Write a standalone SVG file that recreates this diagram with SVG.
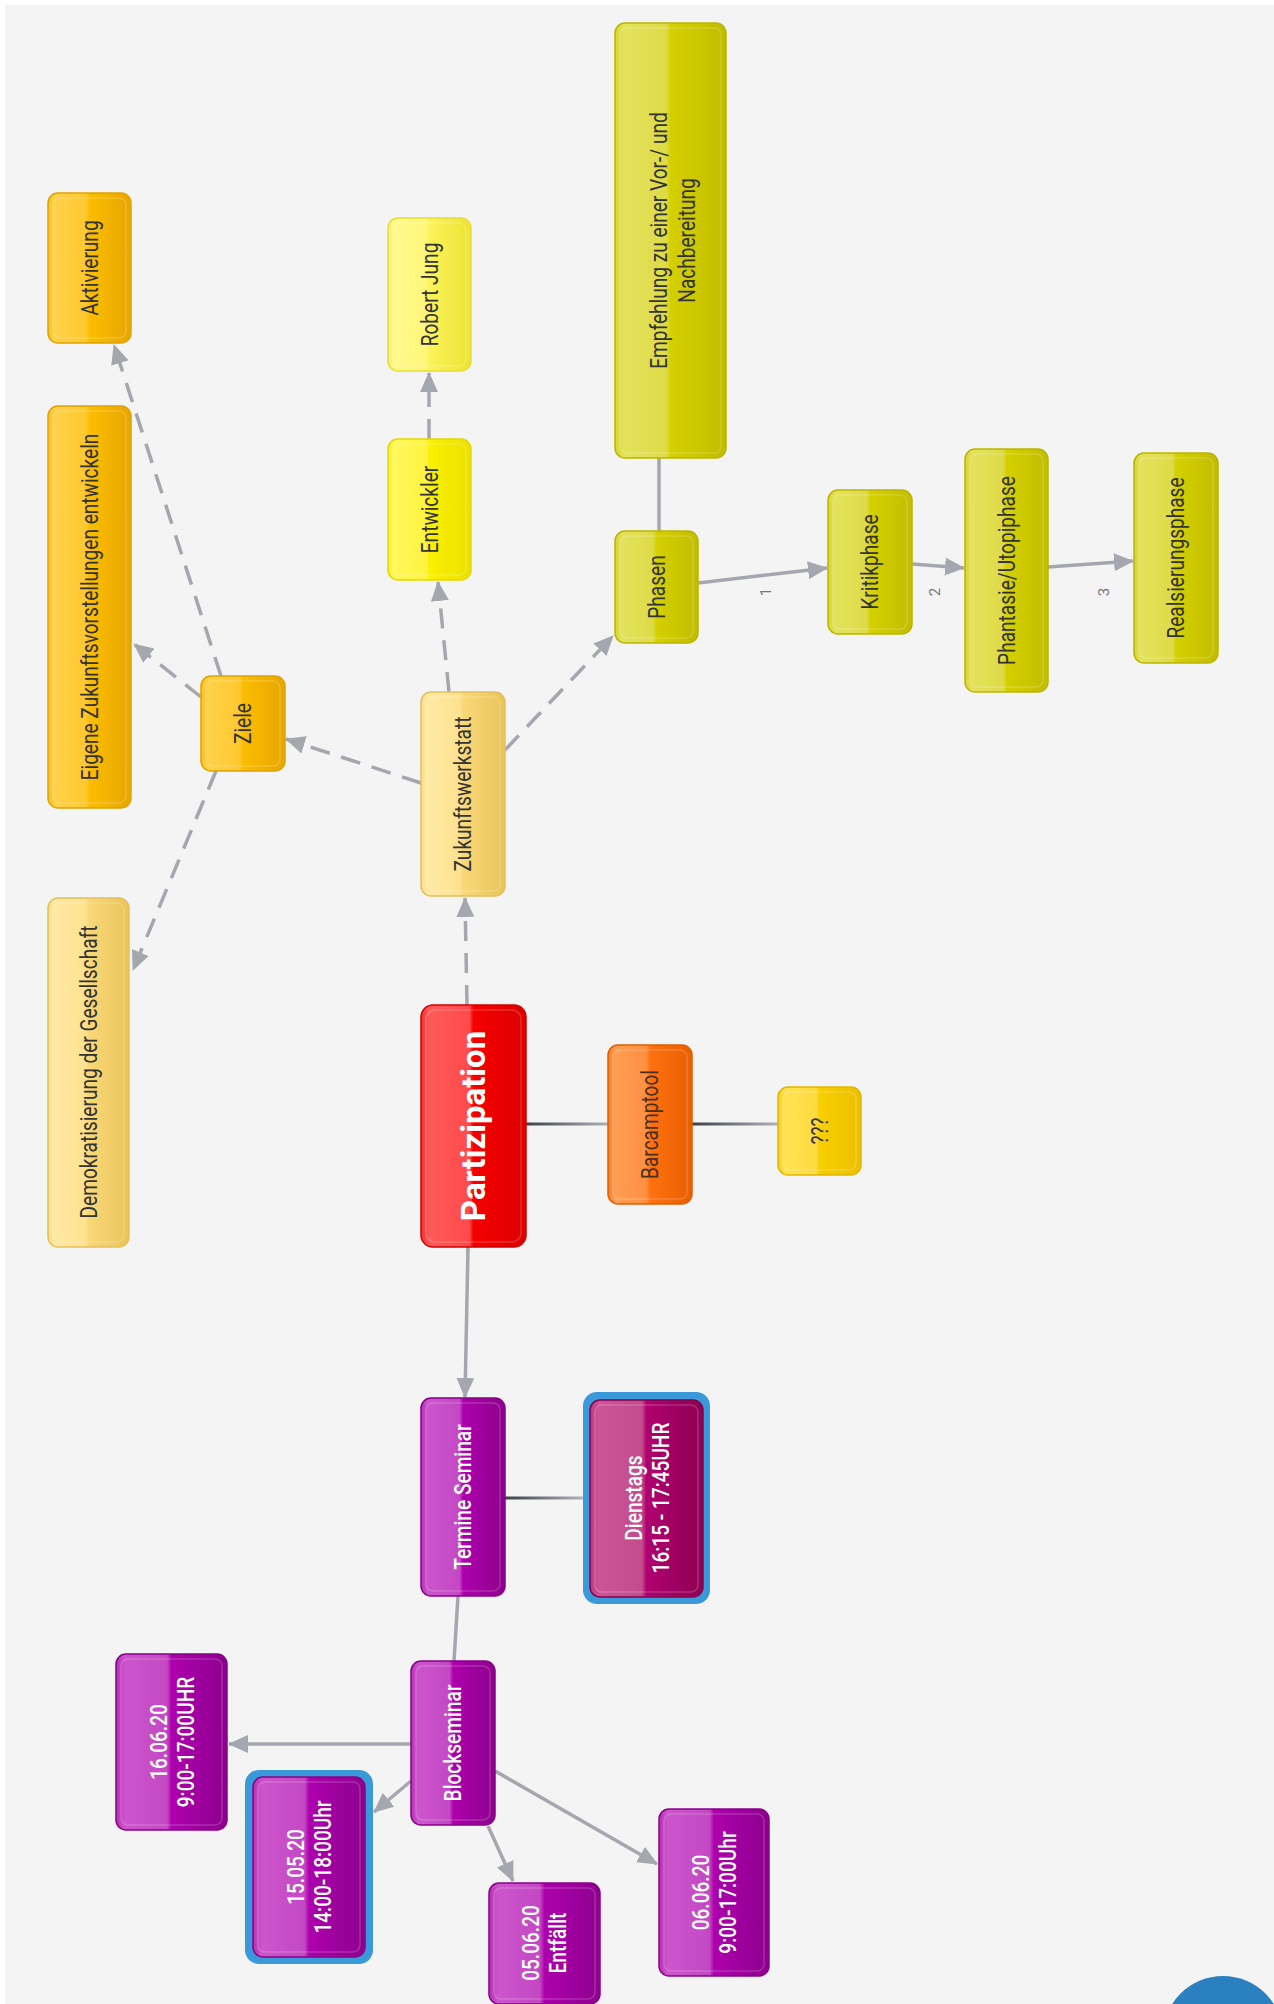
<svg xmlns="http://www.w3.org/2000/svg" width="1274" height="2004" viewBox="0 0 1274 2004">
<style>
.lbl{font-family:Roboto,"Liberation Sans",sans-serif;font-size:23px;fill:#333;text-anchor:middle;dominant-baseline:central}
.w{fill:#fff;font-weight:500}
.big{font-size:33px;font-weight:bold;fill:#fff}
.el{font-family:Roboto,"Liberation Sans",sans-serif;font-size:15px;fill:#777;text-anchor:middle;dominant-baseline:central}
.e{fill:none;stroke:#a4a7ae;stroke-width:3.5}
.d{stroke-dasharray:20 12}
.hl{fill:none;stroke:#fff;stroke-opacity:0.18;stroke-width:1.5}
.b{stroke-width:1.5}
</style>
<defs>
<marker id="arr" markerUnits="userSpaceOnUse" markerWidth="20" markerHeight="18" refX="19" refY="9" orient="auto" viewBox="0 0 20 18">
<path d="M0,0 L20,9 L0,18 z" fill="#a4a7ae"/>
</marker>
<linearGradient id="g-red" x1="0" y1="0" x2="1" y2="0"><stop offset="0" stop-color="#f23030"/><stop offset="0.08" stop-color="#ff5a5a"/><stop offset="0.46" stop-color="#ff4a4a"/><stop offset="0.5" stop-color="#f50000"/><stop offset="1" stop-color="#dc0000"/></linearGradient>
<linearGradient id="g-orange" x1="0" y1="0" x2="1" y2="0"><stop offset="0" stop-color="#f97a20"/><stop offset="0.08" stop-color="#ff9d55"/><stop offset="0.46" stop-color="#ff9040"/><stop offset="0.5" stop-color="#ff7010"/><stop offset="1" stop-color="#e86000"/></linearGradient>
<linearGradient id="g-gold" x1="0" y1="0" x2="1" y2="0"><stop offset="0" stop-color="#f5cf20"/><stop offset="0.08" stop-color="#ffe254"/><stop offset="0.46" stop-color="#ffda40"/><stop offset="0.5" stop-color="#f8cf00"/><stop offset="1" stop-color="#ecbf00"/></linearGradient>
<linearGradient id="g-amber" x1="0" y1="0" x2="1" y2="0"><stop offset="0" stop-color="#f8c020"/><stop offset="0.08" stop-color="#ffd24a"/><stop offset="0.46" stop-color="#ffc830"/><stop offset="0.5" stop-color="#fbbd00"/><stop offset="1" stop-color="#e8a600"/></linearGradient>
<linearGradient id="g-cream" x1="0" y1="0" x2="1" y2="0"><stop offset="0" stop-color="#f8df88"/><stop offset="0.08" stop-color="#ffe9a4"/><stop offset="0.46" stop-color="#fee290"/><stop offset="0.5" stop-color="#f9d878"/><stop offset="1" stop-color="#eac45a"/></linearGradient>
<linearGradient id="g-yellow" x1="0" y1="0" x2="1" y2="0"><stop offset="0" stop-color="#f8f030"/><stop offset="0.08" stop-color="#fff85a"/><stop offset="0.46" stop-color="#fff440"/><stop offset="0.5" stop-color="#faf000"/><stop offset="1" stop-color="#ebe100"/></linearGradient>
<linearGradient id="g-lemon" x1="0" y1="0" x2="1" y2="0"><stop offset="0" stop-color="#f8f070"/><stop offset="0.08" stop-color="#fffa8c"/><stop offset="0.46" stop-color="#fff67a"/><stop offset="0.5" stop-color="#fbf35a"/><stop offset="1" stop-color="#ede434"/></linearGradient>
<linearGradient id="g-olive" x1="0" y1="0" x2="1" y2="0"><stop offset="0" stop-color="#d8d430"/><stop offset="0.08" stop-color="#e4e25c"/><stop offset="0.46" stop-color="#dedb48"/><stop offset="0.5" stop-color="#d4d000"/><stop offset="1" stop-color="#c2bd00"/></linearGradient>
<linearGradient id="g-purple" x1="0" y1="0" x2="1" y2="0"><stop offset="0" stop-color="#b530b5"/><stop offset="0.08" stop-color="#cc55cc"/><stop offset="0.46" stop-color="#c448c4"/><stop offset="0.5" stop-color="#ad00ad"/><stop offset="1" stop-color="#8e008e"/></linearGradient>
<linearGradient id="g-magenta" x1="0" y1="0" x2="1" y2="0"><stop offset="0" stop-color="#b83a80"/><stop offset="0.08" stop-color="#cc5599"/><stop offset="0.46" stop-color="#c24c8c"/><stop offset="0.5" stop-color="#b00070"/><stop offset="1" stop-color="#8e0052"/></linearGradient>
<linearGradient id="l1" gradientUnits="userSpaceOnUse" x1="526" y1="0" x2="608" y2="0"><stop offset="0" stop-color="#3a3f48"/><stop offset="1" stop-color="#b0b3b8"/></linearGradient>
<linearGradient id="l2" gradientUnits="userSpaceOnUse" x1="692" y1="0" x2="778" y2="0"><stop offset="0" stop-color="#3a3f48"/><stop offset="1" stop-color="#b0b3b8"/></linearGradient>
<linearGradient id="l3" gradientUnits="userSpaceOnUse" x1="505" y1="0" x2="583" y2="0"><stop offset="0" stop-color="#3a3f48"/><stop offset="1" stop-color="#b0b3b8"/></linearGradient>
</defs>
<rect width="1274" height="2004" fill="#ffffff"/>
<rect x="5" y="5" width="1269" height="1999" fill="#f4f4f4"/>

<g id="connectors">
<line class="e d" x1="467" y1="1005" x2="465" y2="898" marker-end="url(#arr)"/>
<line class="e d" x1="421" y1="783" x2="286" y2="739" marker-end="url(#arr)"/>
<line class="e d" x1="449" y1="692" x2="438" y2="582" marker-end="url(#arr)"/>
<line class="e d" x1="429" y1="439" x2="429" y2="373" marker-end="url(#arr)"/>
<line class="e d" x1="505" y1="750" x2="613" y2="636" marker-end="url(#arr)"/>
<line class="e d" x1="201" y1="697" x2="134" y2="644" marker-end="url(#arr)"/>
<line class="e d" x1="221" y1="676" x2="114" y2="345" marker-end="url(#arr)"/>
<line class="e d" x1="216" y1="771" x2="133" y2="970" marker-end="url(#arr)"/>
<line class="e" x1="698" y1="583" x2="827" y2="568" marker-end="url(#arr)"/>
<line class="e" x1="912" y1="564" x2="964" y2="568" marker-end="url(#arr)"/>
<line class="e" x1="1048" y1="567" x2="1133" y2="561" marker-end="url(#arr)"/>
<line class="e" x1="468" y1="1247" x2="465" y2="1397" marker-end="url(#arr)"/>
<line class="e" x1="411" y1="1744" x2="229" y2="1744" marker-end="url(#arr)"/>
<line class="e" x1="411" y1="1781" x2="374" y2="1812" marker-end="url(#arr)"/>
<line class="e" x1="488" y1="1826" x2="513" y2="1881" marker-end="url(#arr)"/>
<line class="e" x1="495" y1="1771" x2="657" y2="1864" marker-end="url(#arr)"/>
<line class="e" x1="659" y1="531" x2="659" y2="458"/>
<line class="e" x1="458" y1="1596" x2="454" y2="1661"/>
<line x1="526" y1="1124" x2="608" y2="1124" stroke="url(#l1)" stroke-width="3"/>
<line x1="692" y1="1124" x2="778" y2="1124" stroke="url(#l2)" stroke-width="3"/>
<line x1="505" y1="1498" x2="583" y2="1498" stroke="url(#l3)" stroke-width="3"/>
<text class="el" transform="translate(766,592) rotate(-90)">1</text>
<text class="el" transform="translate(935,592) rotate(-90)">2</text>
<text class="el" transform="translate(1104,592) rotate(-90)">3</text>
</g>

<g id="n-aktivierung">
<rect class="b" x="48" y="193" width="83" height="150" rx="10" fill="url(#g-amber)" stroke="#dea200"/>
<rect class="hl" x="53" y="198" width="73" height="140" rx="7"/>
<text class="lbl" transform="translate(89.5,268) rotate(-90) scale(0.83,1)">Aktivierung</text>
</g>
<g id="n-eigene">
<rect class="b" x="48" y="406" width="83" height="402" rx="10" fill="url(#g-amber)" stroke="#dea200"/>
<rect class="hl" x="53" y="411" width="73" height="392" rx="7"/>
<text class="lbl" transform="translate(89.5,607) rotate(-90) scale(0.83,1)">Eigene Zukunftsvorstellungen entwickeln</text>
</g>
<g id="n-demokratisierung">
<rect class="b" x="48" y="898" width="81" height="349" rx="10" fill="url(#g-cream)" stroke="#e4c05a"/>
<rect class="hl" x="53" y="903" width="71" height="339" rx="7"/>
<text class="lbl" transform="translate(88.5,1072) rotate(-90) scale(0.83,1)">Demokratisierung der Gesellschaft</text>
</g>
<g id="n-ziele">
<rect class="b" x="201" y="676" width="84" height="95" rx="10" fill="url(#g-amber)" stroke="#dea200"/>
<rect class="hl" x="206" y="681" width="74" height="85" rx="7"/>
<text class="lbl" transform="translate(243,723.5) rotate(-90) scale(0.83,1)">Ziele</text>
</g>
<g id="n-zukunftswerkstatt">
<rect class="b" x="421" y="692" width="84" height="204" rx="10" fill="url(#g-cream)" stroke="#e4c05a"/>
<rect class="hl" x="426" y="697" width="74" height="194" rx="7"/>
<text class="lbl" transform="translate(463,794) rotate(-90) scale(0.83,1)">Zukunftswerkstatt</text>
</g>
<g id="n-entwickler">
<rect class="b" x="388" y="439" width="83" height="141" rx="10" fill="url(#g-yellow)" stroke="#e2d900"/>
<rect class="hl" x="393" y="444" width="73" height="131" rx="7"/>
<text class="lbl" transform="translate(429.5,509.5) rotate(-90) scale(0.83,1)">Entwickler</text>
</g>
<g id="n-robert">
<rect class="b" x="388" y="218" width="83" height="153" rx="10" fill="url(#g-lemon)" stroke="#e6de30"/>
<rect class="hl" x="393" y="223" width="73" height="143" rx="7"/>
<text class="lbl" transform="translate(429.5,294.5) rotate(-90) scale(0.83,1)">Robert Jung</text>
</g>
<g id="n-empfehlung">
<rect class="b" x="615" y="23" width="111" height="435" rx="10" fill="url(#g-olive)" stroke="#bab600"/>
<rect class="hl" x="620" y="28" width="101" height="425" rx="7"/>
<text class="lbl" transform="translate(672,240.5) rotate(-90) scale(0.83,1)"><tspan x="0" y="-14">Empfehlung zu einer Vor-/ und</tspan><tspan x="0" y="14">Nachbereitung</tspan></text>
</g>
<g id="n-phasen">
<rect class="b" x="615" y="531" width="83" height="112" rx="10" fill="url(#g-olive)" stroke="#bab600"/>
<rect class="hl" x="620" y="536" width="73" height="102" rx="7"/>
<text class="lbl" transform="translate(656.5,587) rotate(-90) scale(0.83,1)">Phasen</text>
</g>
<g id="n-kritik">
<rect class="b" x="828" y="490" width="84" height="144" rx="10" fill="url(#g-olive)" stroke="#bab600"/>
<rect class="hl" x="833" y="495" width="74" height="134" rx="7"/>
<text class="lbl" transform="translate(870,562) rotate(-90) scale(0.83,1)">Kritikphase</text>
</g>
<g id="n-phantasie">
<rect class="b" x="965" y="449" width="83" height="243" rx="10" fill="url(#g-olive)" stroke="#bab600"/>
<rect class="hl" x="970" y="454" width="73" height="233" rx="7"/>
<text class="lbl" transform="translate(1006.5,570.5) rotate(-90) scale(0.83,1)">Phantasie/Utopiphase</text>
</g>
<g id="n-realsierung">
<rect class="b" x="1134" y="453" width="84" height="210" rx="10" fill="url(#g-olive)" stroke="#bab600"/>
<rect class="hl" x="1139" y="458" width="74" height="200" rx="7"/>
<text class="lbl" transform="translate(1176,558) rotate(-90) scale(0.83,1)">Realsierungsphase</text>
</g>
<g id="n-partizipation">
<rect class="b" x="421" y="1005" width="105" height="242" rx="12" fill="url(#g-red)" stroke="#d00000"/>
<rect class="hl" x="426" y="1010" width="95" height="232" rx="9"/>
<text class="lbl big" transform="translate(473.5,1126) rotate(-90)">Partizipation</text>
</g>
<g id="n-barcamptool">
<rect class="b" x="608" y="1045" width="84" height="159" rx="10" fill="url(#g-orange)" stroke="#e05e00"/>
<rect class="hl" x="613" y="1050" width="74" height="149" rx="7"/>
<text class="lbl" transform="translate(650,1124.5) rotate(-90) scale(0.83,1)" style="fill:#4a3020">Barcamptool</text>
</g>
<g id="n-qqq">
<rect class="b" x="778" y="1087" width="83" height="88" rx="10" fill="url(#g-gold)" stroke="#e0b600"/>
<rect class="hl" x="783" y="1092" width="73" height="78" rx="7"/>
<text class="lbl" transform="translate(819.5,1131) rotate(-90) scale(0.83,1)">???</text>
</g>
<g id="n-termine">
<rect class="b" x="421" y="1398" width="84" height="198" rx="10" fill="url(#g-purple)" stroke="#880088"/>
<rect class="hl" x="426" y="1403" width="74" height="188" rx="7"/>
<text class="lbl w" transform="translate(463,1497) rotate(-90) scale(0.83,1)">Termine Seminar</text>
</g>
<g id="n-dienstags">
<rect x="583" y="1392" width="127" height="212" rx="14" fill="#3a9ad9"/>
<rect class="b" x="590" y="1400" width="113" height="197" rx="10" fill="url(#g-magenta)" stroke="#850050"/>
<rect class="hl" x="595" y="1405" width="103" height="187" rx="7"/>
<text class="lbl w" transform="translate(647,1498) rotate(-90) scale(0.83,1)"><tspan x="0" y="-13.5">Dienstags</tspan><tspan x="0" y="13.5">16:15 - 17:45UHR</tspan></text>
</g>
<g id="n-blockseminar">
<rect class="b" x="411" y="1661" width="84" height="164" rx="10" fill="url(#g-purple)" stroke="#880088"/>
<rect class="hl" x="416" y="1666" width="74" height="154" rx="7"/>
<text class="lbl w" transform="translate(453,1743) rotate(-90) scale(0.83,1)">Blockseminar</text>
</g>
<g id="n-1606">
<rect class="b" x="116" y="1654" width="111" height="176" rx="10" fill="url(#g-purple)" stroke="#880088"/>
<rect class="hl" x="121" y="1659" width="101" height="166" rx="7"/>
<text class="lbl w" transform="translate(171.5,1742) rotate(-90) scale(0.83,1)"><tspan x="0" y="-13.5">16.06.20</tspan><tspan x="0" y="13.5">9:00-17:00UHR</tspan></text>
</g>
<g id="n-1505">
<rect x="245" y="1770" width="128" height="194" rx="14" fill="#3a9ad9"/>
<rect class="b" x="253" y="1777" width="112" height="180" rx="10" fill="url(#g-purple)" stroke="#880088"/>
<rect class="hl" x="258" y="1782" width="102" height="170" rx="7"/>
<text class="lbl w" transform="translate(309,1867) rotate(-90) scale(0.83,1)"><tspan x="0" y="-13.5">15.05.20</tspan><tspan x="0" y="13.5">14:00-18:00Uhr</tspan></text>
</g>
<g id="n-0506">
<rect class="b" x="489" y="1883" width="111" height="121" rx="10" fill="url(#g-purple)" stroke="#880088"/>
<rect class="hl" x="494" y="1888" width="101" height="111" rx="7"/>
<text class="lbl w" transform="translate(544,1943) rotate(-90) scale(0.83,1)"><tspan x="0" y="-13.5">05.06.20</tspan><tspan x="0" y="13.5">Entfällt</tspan></text>
</g>
<g id="n-0606">
<rect class="b" x="659" y="1809" width="110" height="167" rx="10" fill="url(#g-purple)" stroke="#880088"/>
<rect class="hl" x="664" y="1814" width="100" height="157" rx="7"/>
<text class="lbl w" transform="translate(714,1892.5) rotate(-90) scale(0.83,1)"><tspan x="0" y="-13.5">06.06.20</tspan><tspan x="0" y="13.5">9:00-17:00Uhr</tspan></text>
</g>
<circle cx="1223" cy="2036" r="60" fill="#2b80c0"/>
</svg>
